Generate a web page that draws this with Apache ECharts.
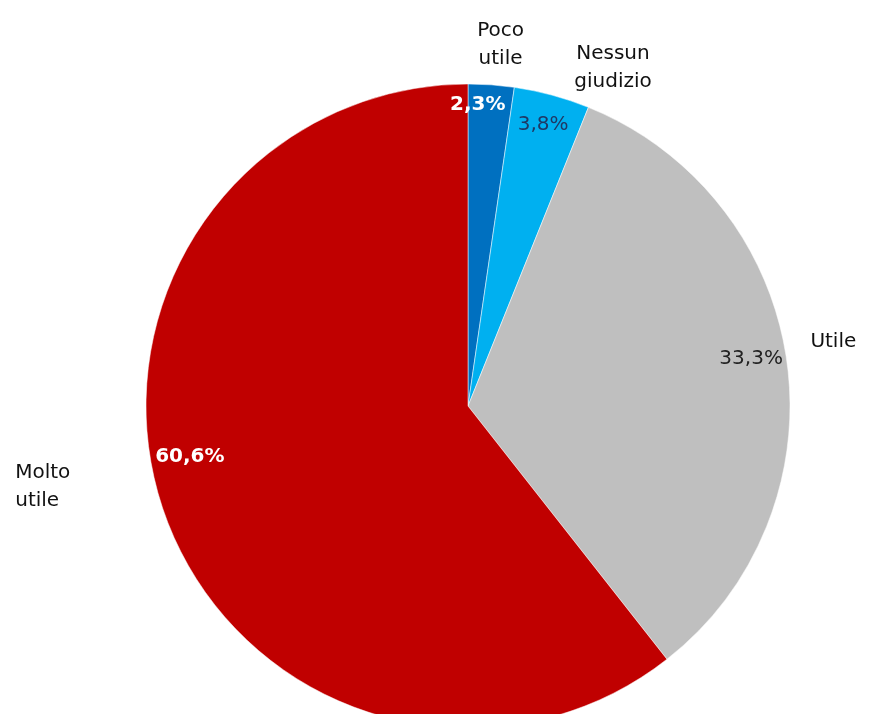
<!DOCTYPE html>
<html>
<head>
<meta charset="utf-8">
<script src="https://cdn.jsdelivr.net/npm/echarts@6/dist/echarts.min.js"></script>
<style>
  html, body { margin: 0; padding: 0; background: #fff; }
  #chart { width: 882px; height: 714px; }
</style>
</head>
<body>
<div id="chart"></div>
<script type="text/javascript">
// data
var names = ['Poco\nutile', 'Nessun\ngiudizio', 'Utile', 'Molto\nutile'];
var values = [2.3, 3.8, 33.3, 60.6];

// styles
var colors = ['#0070C0', '#00B0F0', '#BFBFBF', '#C00000'];
var pctColors = ['#ffffff', '#1F3864', '#222222', '#ffffff'];
var pctWeights = ['bold', 'normal', 'normal', 'bold'];
// small nudges so labels sit where the original puts them
var pctShift = [[-11, -14], [0, -3], [-2, -7], [-6, -43]];
var nameShift = [[6, 6], [49, 17], [1, -12], [-105, -39]];
var nameAlign = ['center', 'center', 'center', 'left'];

var chart = echarts.init(document.getElementById('chart'));
var center = [468, 406];
var font = 'DejaVu Sans';

function pieData(withColor) {
    var out = [];
    for (var i = 0; i < values.length; i++) {
        out.push({
            name: names[i],
            value: values[i],
            itemStyle: { color: withColor ? colors[i] : 'rgba(0,0,0,0)' }
        });
    }
    return out;
}

var pctData = pieData(false);
for (var i = 0; i < pctData.length; i++) {
    pctData[i].label = { color: pctColors[i], fontWeight: pctWeights[i] };
}

option = {
    backgroundColor: '#ffffff',
    animation: false,
    series: [
        {
            type: 'pie',
            center: center,
            radius: 322,
            startAngle: 90,
            clockwise: true,
            silent: true,
            label: { show: false },
            labelLine: { show: false },
            itemStyle: { borderColor: '#ffffff', borderWidth: 0.5 },
            data: pieData(true)
        },
        {
            // percent labels
            type: 'pie',
            center: center,
            radius: [240, 330],
            startAngle: 90,
            silent: true,
            label: {
                show: true,
                position: 'inside',
                fontFamily: font,
                fontSize: 20,
                formatter: function (p) {
                    return String(p.value).replace('.', ',') + '%';
                }
            },
            labelLine: { show: false },
            labelLayout: function (p) {
                return { dx: pctShift[p.dataIndex][0], dy: pctShift[p.dataIndex][1] };
            },
            data: pctData
        },
        {
            // category names outside the pie
            type: 'pie',
            center: center,
            radius: [330, 400],
            startAngle: 90,
            silent: true,
            label: {
                show: true,
                position: 'inside',
                fontFamily: font,
                fontSize: 20,
                lineHeight: 28,
                color: '#111111',
                formatter: '{b}'
            },
            labelLine: { show: false },
            labelLayout: function (p) {
                return {
                    dx: nameShift[p.dataIndex][0],
                    dy: nameShift[p.dataIndex][1],
                    align: nameAlign[p.dataIndex]
                };
            },
            data: pieData(false)
        }
    ]
};
chart.setOption(option);
</script>
</body>
</html>
